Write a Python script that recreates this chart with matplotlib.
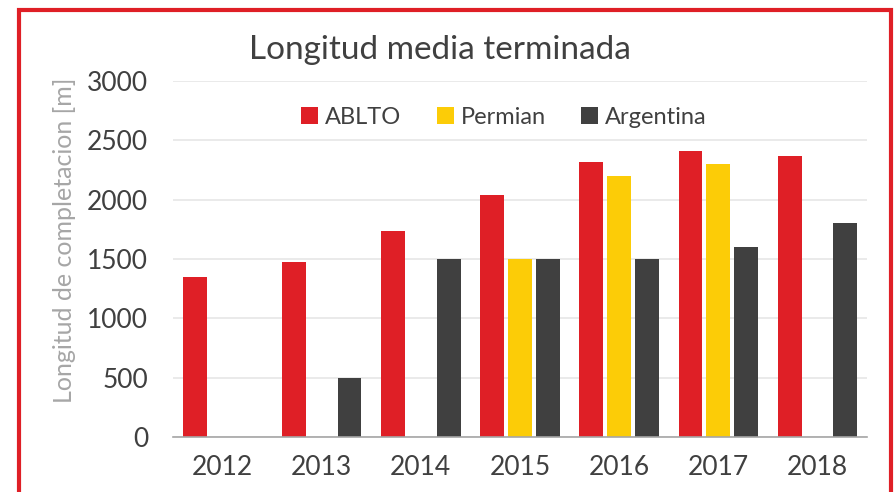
import numpy as np
import matplotlib
matplotlib.use("Agg")
import matplotlib.pyplot as plt
from matplotlib.patches import Rectangle, Patch

plt.rcParams['font.family'] = ['Lato', 'DejaVu Sans']

# datos
years = ['2012', '2013', '2014', '2015', '2016', '2017', '2018']
ablto = [1345, 1478, 1737, 2040, 2315, 2407, 2365]
permian = [0, 0, 0, 1500, 2200, 2300, 0]
argentina = [0, 500, 1500, 1500, 1500, 1600, 1800]

series = ['ABLTO', 'Permian', 'Argentina']
colors = ['#DF1F26', '#FCCC07', '#404040']
txt_col = '#404040'

fig = plt.figure(figsize=(8.96, 4.92), dpi=100)
ax = fig.add_axes([173/896, 1-437/492, 694/896, 356/492])

x = np.arange(len(years))
w = 0.24
step = 0.28
for i, (vals, c) in enumerate(zip([ablto, permian, argentina], colors)):
    ax.bar(x + (i-1)*step, vals, w, color=c, zorder=3)

ax.set_xlim(-0.5, len(years)-0.5)
ax.set_ylim(0, 3000)
ax.set_yticks(np.arange(0, 3001, 500))
ax.set_xticks(x)
ax.set_xticklabels(years)
ax.tick_params(axis='both', length=0, labelsize=19, colors=txt_col)
ax.tick_params(axis='y', pad=18)
ax.tick_params(axis='x', pad=13)
ax.grid(axis='y', color='#E6E6E6', linewidth=1.2, zorder=0)
for s in ['top', 'right', 'left']:
    ax.spines[s].set_visible(False)
ax.spines['bottom'].set_color('#A6A6A6')
ax.spines['bottom'].set_linewidth(1.2)
ax.spines['bottom'].set_zorder(4)

fig.text(65/896, 1-240/492, 'Longitud de completacion [m]', rotation=90,
         ha='center', va='center', fontsize=18, color='#A6A6A6')
fig.text(440/896, 1-50/492, 'Longitud media terminada', ha='center',
         va='center', fontsize=24, color=txt_col)

handles = [Patch(facecolor=c, label=s) for s, c in zip(series, colors)]
fig.legend(handles=handles, loc='center', bbox_to_anchor=(504/896, 1-117/492),
           ncol=3, frameon=False, fontsize=17, handlelength=0.72,
           handleheight=0.72, handletextpad=0.3, columnspacing=1.5,
           labelcolor=txt_col)

# marco rojo
fig.patches.append(Rectangle((19/896, -0.05), 872/896, 1.05 - 9.5/492,
                             transform=fig.transFigure, fill=False,
                             edgecolor='#DF1F26', linewidth=3))

plt.savefig('out.png', dpi=100)
